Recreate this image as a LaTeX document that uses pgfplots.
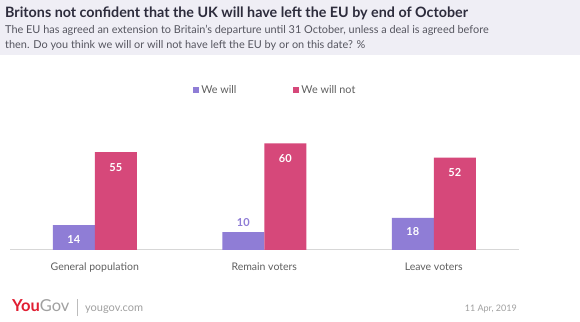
\documentclass[border=0pt]{standalone}
\usepackage{pgfplots}
\pgfplotsset{compat=1.18}
\usepackage{fontspec}
\setmainfont{Lato}
\definecolor{ygpurple}{RGB}{143,125,214}
\definecolor{ygpink}{RGB}{214,72,122}
\definecolor{hdr}{RGB}{239,238,245}
\definecolor{ttl}{RGB}{45,44,60}
\definecolor{sub}{RGB}{85,85,95}
\definecolor{lbl}{RGB}{95,95,95}
\definecolor{ygred}{RGB}{225,30,50}
\definecolor{foot}{RGB}{160,160,160}
\begin{document}
\begin{tikzpicture}[x=1pt,y=1pt]
\fill[white] (0,0) rectangle (580,321);
\fill[hdr] (0,266) rectangle (580,321);
\node[anchor=base west, inner sep=0, font=\bfseries\fontsize{14.3}{15}\selectfont, text=ttl] at (5,303) {Britons not confident that the UK will have left the EU by end of October};
\node[anchor=base west, inner sep=0, font=\fontsize{10.9}{13}\selectfont, text=sub] at (5,287) {The EU has agreed an extension to Britain's departure until 31 October, unless a deal is agreed before};
\node[anchor=base west, inner sep=0, font=\fontsize{10.9}{13}\selectfont, text=sub] at (5,272) {then. Do you think we will or will not have left the EU by or on this date? \%};
\begin{axis}[
  at={(10pt,71pt)}, anchor=south west,
  scale only axis, width=508.5pt, height=124.5pt,
  xmin=-0.5, xmax=2.5, ymin=0, ymax=70,
  ybar=0pt, bar width=42pt,
  axis y line=none,
  axis x line*=bottom,
  x axis line style={draw={rgb,255:red,215;green,215;blue,215}, line width=1pt, -},
  xtick={0,1,2},
  xticklabels={General population, Remain voters, Leave voters},
  major tick length=0pt,
  xticklabel style={font=\fontsize{10.5}{12}\selectfont, text=lbl, anchor=base, yshift=-20pt},
  /pgf/number format/assume math mode=true,
  legend style={draw=none, fill=none, inner sep=0pt, at={(0.36,1.285)}, anchor=west,
    font=\fontsize{10.8}{12}\selectfont, text=lbl,
    /tikz/every even column/.append style={column sep=55pt}},
  legend columns=2,
  clip=false,
]
\addplot[fill=ygpurple, draw=none,
  legend image code/.code={\fill[ygpurple] (0pt,-3pt) rectangle (6pt,3pt);},
  visualization depends on={\thisrow{s} \as \lblshift},
  visualization depends on={value \thisrow{c} \as \lblcol},
  nodes near coords,
  every node near coord/.append style={font=\bfseries\fontsize{11}{11}\selectfont, text=\lblcol, anchor=center, yshift=\lblshift pt}]
  table[x=x, y=y] {
x y s c
0 14 -14 white
1 10 10 ygpurple
2 18 -14 white
};
\addplot[fill=ygpink, draw=none,
  legend image code/.code={\fill[ygpink] (0pt,-3pt) rectangle (6pt,3pt);},
  nodes near coords,
  every node near coord/.append style={font=\bfseries\fontsize{11}{11}\selectfont, text=white, anchor=center, yshift=-15pt}]
  coordinates {(0,55) (1,60) (2,52)};
\legend{We will, We will not}
\end{axis}
\node[anchor=base west, inner sep=0, font=\bfseries\fontsize{16.5}{16}\selectfont] at (12,10) {\textcolor{ygred}{You}\textcolor{foot}{\mdseries Gov}};
\draw[foot!70, line width=0.6pt] (77,5) -- (77,22);
\node[anchor=base west, inner sep=0, font=\fontsize{11}{13}\selectfont, text=foot] at (85,10) {yougov.com};
\node[anchor=base east, inner sep=0, font=\fontsize{9}{11}\selectfont, text=foot] at (517,10) {11 Apr, 2019};
\end{tikzpicture}
\end{document}
